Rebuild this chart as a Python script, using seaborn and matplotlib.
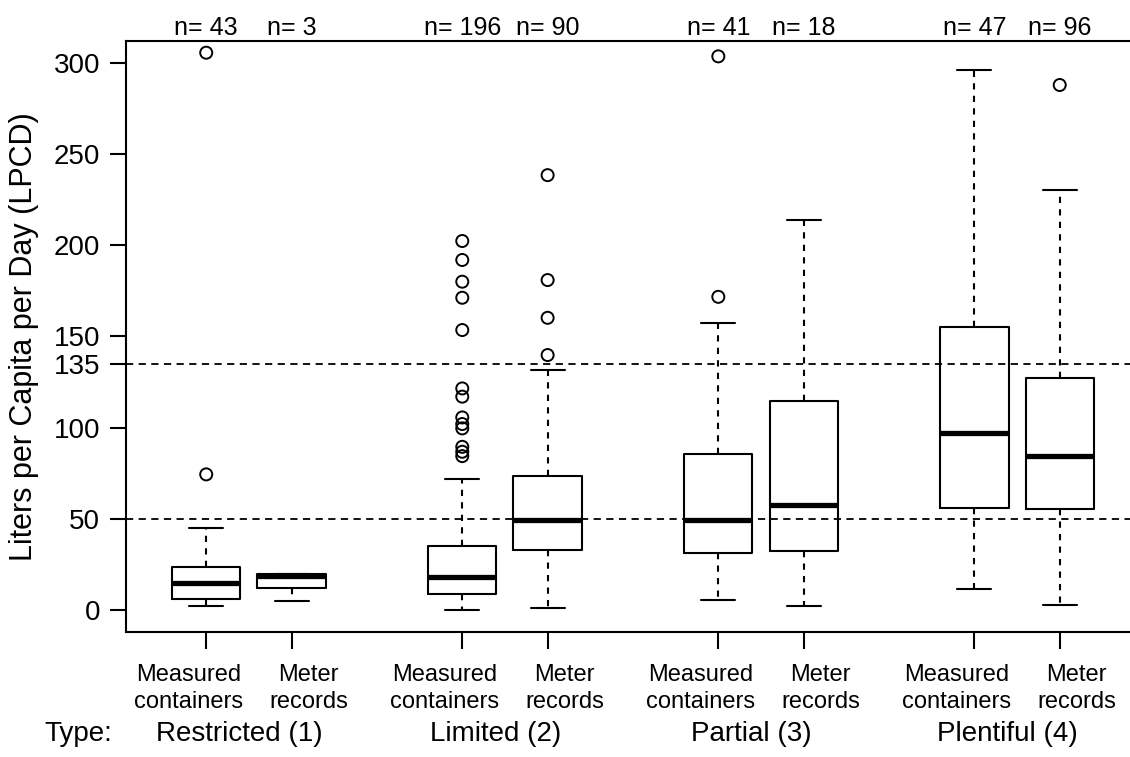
import numpy as np
import pandas as pd
import matplotlib
matplotlib.use("Agg")
import matplotlib.pyplot as plt
import matplotlib.transforms as mtransforms
import seaborn as sns

# ---------------- data ----------------
types = ["Restricted (1)", "Limited (2)", "Partial (3)", "Plentiful (4)"]
methods = ["Measured\ncontainers", "Meter\nrecords"]
n_counts = [43, 3, 196, 90, 41, 18, 47, 96]
whisker_low = [2.0, 5.1, 0.0, 1.3, 5.7, 2.4, 11.7, 3.0]
quartile_1 = [6.2, 12.1, 9.1, 32.9, 31.4, 32.6, 55.8, 55.4]
medians = [14.6, 18.6, 17.9, 49.3, 49.6, 57.8, 97.0, 84.5]
quartile_3 = [23.7, 19.6, 35.1, 73.6, 85.6, 114.7, 155.2, 127.0]
whisker_high = [45.1, 19.6, 72.0, 131.4, 157.4, 213.6, 296.1, 230.1]
outliers = [
    [305.5, 74.4],
    [],
    [202.3, 191.9, 180.0, 171.2, 153.5, 121.5, 117.0, 105.6, 102.0, 99.6, 89.5, 86.8, 84.4],
    [238.4, 180.9, 160.2, 139.8],
    [303.5, 171.7],
    [],
    [],
    [287.8],
]
reference_lines = [50, 135]
y_ticks = [0, 50, 100, 135, 150, 200, 250, 300]

# ---------------- style ----------------
sns.set_theme(style="ticks")
plt.rcParams["font.family"] = ["Liberation Sans", "DejaVu Sans"]
plt.rcParams["axes.linewidth"] = 1.5

fig = plt.figure(figsize=(11.3, 7.57), dpi=100)
ax = fig.add_axes([0.1115, 0.1651, 0.8973, 0.7807])

positions = [3 * g + 1 + m for g in range(len(types)) for m in range(len(methods))]

stats = []
for i in range(len(positions)):
    stats.append(dict(med=medians[i], q1=quartile_1[i], q3=quartile_3[i],
                      whislo=whisker_low[i], whishi=whisker_high[i], fliers=[]))

ax.bxp(stats, positions=positions, widths=0.8, capwidths=0.4, showfliers=False,
       manage_ticks=False, patch_artist=False,
       boxprops=dict(color="black", linewidth=1.5),
       medianprops=dict(color="black", linewidth=3.8, solid_capstyle="butt"),
       whiskerprops=dict(color="black", linewidth=1.5, linestyle=(0, (3, 3))),
       capprops=dict(color="black", linewidth=1.5))

out_df = pd.DataFrame({
    "pos": [positions[i] for i in range(len(positions)) for _ in outliers[i]],
    "value": [v for i in range(len(positions)) for v in outliers[i]],
})
sns.scatterplot(data=out_df, x="pos", y="value", ax=ax, marker="o", s=75,
                facecolor="none", edgecolor="black", linewidth=1.4, zorder=3)

for ref in reference_lines:
    ax.axhline(ref, color="black", linewidth=1.3, linestyle=(0, (4, 3)), zorder=1)

ax.set_xlim(0.06, 11.94)
ax.set_ylim(-12.0, 311.9)
ax.set_yticks(y_ticks)
ax.set_yticklabels([str(t) for t in y_ticks])

# tick marks at the box positions, labels slightly offset (as in the reference)
ax.set_xticks(positions)
ax.set_xticklabels([""] * len(positions))
label_offsets = [-0.21, 0.20]
label_pos = [p + label_offsets[i % 2] for i, p in enumerate(positions)]
ax.set_xticks(label_pos, minor=True)
ax.set_xticklabels(methods * len(types), minor=True, linespacing=1.3)
ax.set_xlabel("")
ax.tick_params(axis="y", which="both", length=11.5, width=1.5, pad=7, labelsize=20, colors="black")
ax.tick_params(axis="y", which="minor", length=0)
ax.tick_params(axis="x", which="major", length=12.2, width=1.5, pad=8.5, colors="black")
ax.tick_params(axis="x", which="minor", length=0, width=0, pad=10.5 + 12.2,
               labelsize=17, colors="black")
for s in ax.spines.values():
    s.set_visible(True)
    s.set_color("black")
    s.set_linewidth(1.5)

ax.set_ylabel("Liters per Capita per Day (LPCD)", fontsize=22, color="black")
ax.yaxis.label.set_verticalalignment("center")
ax.yaxis.set_label_coords(-0.1005, 0.5)

for i, n in enumerate(n_counts):
    ax.text(positions[i], 1.011, f"n= {n}", transform=ax.get_xaxis_transform(),
            ha="center", va="baseline", fontsize=18, color="black")

blend = mtransforms.blended_transform_factory(ax.transData, fig.transFigure)
for g, t in enumerate(types):
    ax.text(3 * g + 1.5 - 0.11, 0.0304, t, transform=blend, ha="center", va="center",
            fontsize=20, color="black")
fig.text(0.069, 0.0304, "Type:", ha="center", va="center", fontsize=20, color="black")

fig.savefig("out.png", dpi=100, facecolor="white")
